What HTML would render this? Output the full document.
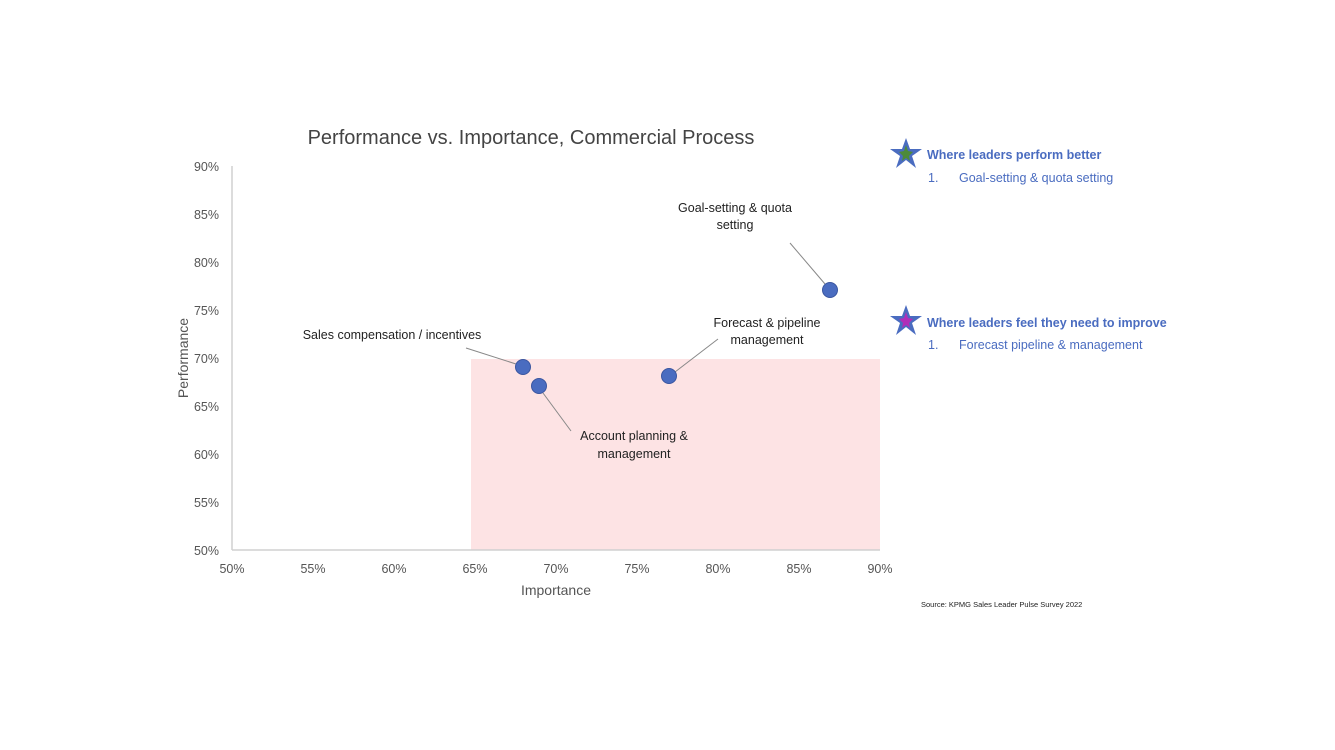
<!DOCTYPE html>
<html><head><meta charset="utf-8"><style>body{margin:0;background:#fff}svg{display:block}</style></head><body>
<svg width="1335" height="750" xmlns="http://www.w3.org/2000/svg" font-family="Liberation Sans, sans-serif">
<rect width="1335" height="750" fill="#fff"/>
<rect x="471" y="359" width="409" height="191" fill="#fde3e4"/>
<line x1="232" y1="166" x2="232" y2="550" stroke="#d0d0d0" stroke-width="1.5"/>
<line x1="232" y1="550" x2="880" y2="550" stroke="#d0d0d0" stroke-width="1.5"/>
<text x="531" y="144" font-size="20" fill="#444" text-anchor="middle">Performance vs. Importance, Commercial Process</text>
<g font-size="12.5" fill="#555" text-anchor="end">
<text x="219" y="171">90%</text><text x="219" y="219">85%</text><text x="219" y="267">80%</text><text x="219" y="315">75%</text><text x="219" y="363">70%</text><text x="219" y="411">65%</text><text x="219" y="459">60%</text><text x="219" y="507">55%</text><text x="219" y="555">50%</text>
</g>
<g font-size="12.5" fill="#555" text-anchor="middle">
<text x="232" y="573">50%</text><text x="313" y="573">55%</text><text x="394" y="573">60%</text><text x="475" y="573">65%</text><text x="556" y="573">70%</text><text x="637" y="573">75%</text><text x="718" y="573">80%</text><text x="799" y="573">85%</text><text x="880" y="573">90%</text>
</g>
<text x="556" y="595" font-size="14" fill="#555" text-anchor="middle">Importance</text>
<text transform="translate(188,358) rotate(-90)" font-size="14" fill="#555" text-anchor="middle">Performance</text>
<g stroke="#888" stroke-width="1">
<line x1="466" y1="348" x2="516" y2="364"/>
<line x1="543" y1="393" x2="571" y2="431"/>
<line x1="675" y1="372" x2="718" y2="339"/>
<line x1="790" y1="243" x2="825" y2="284"/>
</g>
<g fill="#4a6cc0" stroke="#3a56a0" stroke-width="1">
<circle cx="523" cy="367" r="7.5"/><circle cx="539" cy="386" r="7.5"/><circle cx="669" cy="376" r="7.5"/><circle cx="830" cy="290" r="7.5"/>
</g>
<g font-size="12.5" fill="#222" text-anchor="middle">
<text x="392" y="339">Sales compensation / incentives</text>
<text x="634" y="440">Account planning &amp;</text><text x="634" y="458">management</text>
<text x="767" y="327">Forecast &amp; pipeline</text><text x="767" y="344">management</text>
<text x="735" y="212">Goal-setting &amp; quota</text><text x="735" y="229">setting</text>
</g>
<polygon points="906,138 910,149 922,149 912,156 916,168 906,160 896,168 900,156 890,149 902,149" fill="#4a6cc0"/>
<polygon points="906,145 908,151 913,152 909,156 910,161 906,158 902,161 903,156 899,152 904,151" fill="#4d8a3a"/>
<polygon points="906,305 910,316 922,316 912,323 916,335 906,327 896,335 900,323 890,316 902,316" fill="#4a6cc0"/>
<polygon points="906,312 908,318 913,319 909,323 910,328 906,325 902,328 903,323 899,319 904,318" fill="#b02fb8"/>
<g fill="#4a6cc0" font-size="12.5">
<text x="927" y="159" font-weight="bold">Where leaders perform better</text>
<text x="928" y="182">1.</text><text x="959" y="182">Goal-setting &amp; quota setting</text>
<text x="927" y="327" font-weight="bold">Where leaders feel they need to improve</text>
<text x="928" y="349">1.</text><text x="959" y="349">Forecast pipeline &amp; management</text>
</g>
<text x="921" y="607" font-size="7.5" fill="#222">Source: KPMG Sales Leader Pulse Survey 2022</text>
</svg>
</body></html>
